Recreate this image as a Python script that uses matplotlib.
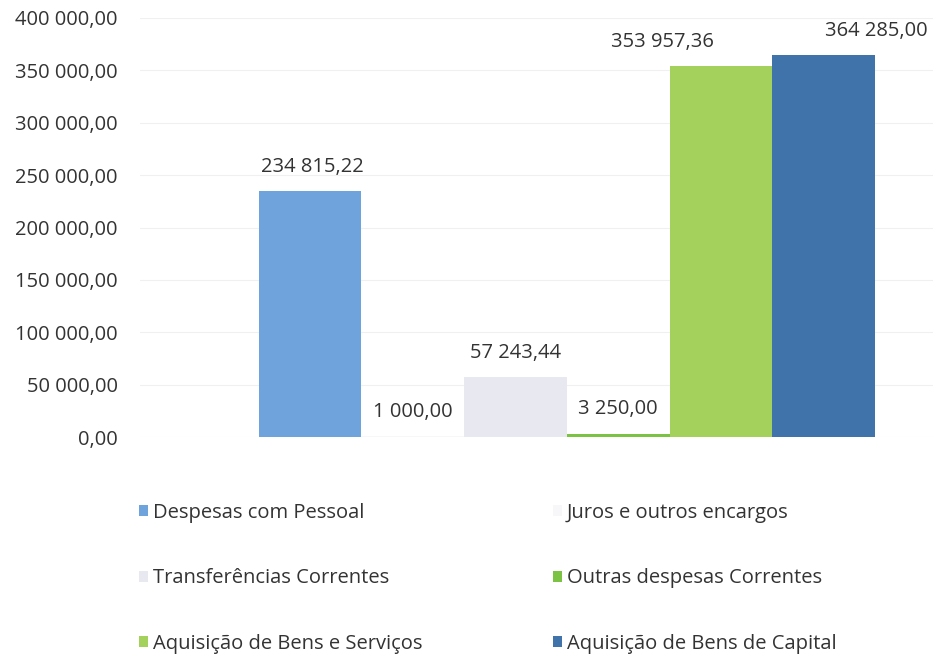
import matplotlib
matplotlib.use("Agg")
import matplotlib.pyplot as plt
from matplotlib.ticker import FuncFormatter
from matplotlib.patches import Patch

categories = ["Despesas com Pessoal", "Juros e outros encargos", "Transferências Correntes",
              "Outras despesas Correntes", "Aquisição de Bens e Serviços", "Aquisição de Bens de Capital"]
values = [234815.22, 1000.00, 57243.44, 3250.00, 353957.36, 364285.00]
colors = ["#6fa3dc", "#f7f7fa", "#e8e8f0", "#7cc243", "#a3d15b", "#3f73aa"]
yticks = [0, 50000, 100000, 150000, 200000, 250000, 300000, 350000, 400000]
# horizontal nudges of the data labels (in bar widths), as placed in the original
label_dx = [0.02, 0, 0, 0, -0.57, 0.51]

plt.rcParams['font.family'] = ['Open Sans', 'DejaVu Sans']
FS = 14.5

def fmt(v):
    s = f"{v:,.2f}"
    return s.replace(",", " ").replace(".", ",")

fig = plt.figure(figsize=(9.33, 6.6), dpi=100)
ax = fig.add_axes([140/933, 223/660, 793/933, 419/660])

n = len(values)
for i, (v, c, dx) in enumerate(zip(values, colors, label_dx)):
    x = i - (n - 1) / 2
    ax.bar(x, v, width=1.0, color=c, zorder=2)
    ax.text(x + dx, v + 13500, fmt(v), ha="center", va="bottom", fontsize=FS, color="#333333", zorder=3)

ax.set_xlim(-4.155, 3.563)
ax.set_ylim(0, 400000)
ax.set_yticks(yticks)
ax.yaxis.set_major_formatter(FuncFormatter(lambda v, p: fmt(v)))
ax.tick_params(axis="y", length=0, labelsize=FS, labelcolor="#333333", pad=16)
ax.set_xticks([])
for s in ax.spines.values():
    s.set_visible(False)
ax.grid(axis="y", color="#f0f0f0", linewidth=0.8, zorder=0)
ax.set_axisbelow(True)

# row-wise legend order (matplotlib fills column-wise)
order = [0, 2, 4, 1, 3, 5]
handles = [Patch(facecolor=colors[i], edgecolor="none") for i in order]
labels = [categories[i] for i in order]
leg = fig.legend(handles, labels, loc="upper left", bbox_to_anchor=(131/933, 1 - 495/660),
                 ncol=2, frameon=False, fontsize=FS, handlelength=0.45, handleheight=0.45,
                 handletextpad=0.25, columnspacing=6.45, labelspacing=2.25, borderaxespad=0)
for t in leg.get_texts():
    t.set_color("#333333")

fig.savefig("out.png", dpi=100)
